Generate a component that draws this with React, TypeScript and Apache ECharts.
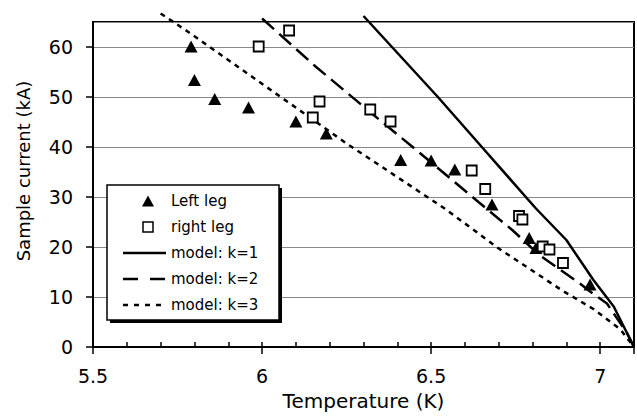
import React, { useEffect, useRef } from "react";
import * as echarts from "echarts";

const leftLegT = [5.79, 5.80, 5.86, 5.96, 6.10, 6.19, 6.41, 6.50, 6.57, 6.68, 6.79, 6.81, 6.97];
const leftLegI = [60.1, 53.4, 49.6, 47.9, 45.1, 42.7, 37.4, 37.3, 35.5, 28.5, 21.8, 19.8, 12.5];

const rightLegT = [5.99, 6.08, 6.15, 6.17, 6.32, 6.38, 6.62, 6.66, 6.76, 6.77, 6.83, 6.85, 6.89];
const rightLegI = [60.1, 63.3, 45.9, 49.1, 47.5, 45.1, 35.3, 31.6, 26.2, 25.5, 20.1, 19.5, 16.8];

const k1T = [6.30, 6.52, 6.65, 6.81, 6.90, 6.98, 7.04, 7.10];
const k1I = [66.2, 50.0, 40.0, 27.7, 21.4, 13.4, 8.1, 0];

const k2T = [6.00, 6.16, 6.33, 6.44, 6.64, 6.74, 6.82, 6.94, 6.97, 7.02, 7.08, 7.10];
const k2I = [65.7, 56.0, 46.4, 40.3, 29.0, 23.4, 18.4, 12.7, 11.1, 8.7, 2.7, 0];

const k3T = [5.70, 5.78, 6.11, 6.25, 6.54, 6.70, 6.89, 6.98, 7.06, 7.10];
const k3I = [66.7, 63.1, 47.4, 40.7, 27.7, 19.7, 11.2, 7.6, 3.5, 0];

const xLabels = ["5.5", "6", "6.5", "7"];
const seriesNames = ["Left leg", "right leg", "model: k=1", "model: k=2", "model: k=3"];
const xTitle = "Temperature (K)";
const yTitle = "Sample current (kA)";

const zip = (a: number[], b: number[]) => a.map((v, i) => [v, b[i]]);

const FONT = "DejaVu Sans";
const DASH2 = [16, 7];
const DASH3 = [5, 5];

export default function App() {
  const ref = useRef<HTMLDivElement>(null);
  useEffect(() => {
    if (!ref.current) return;
    const chart = echarts.init(ref.current, null, { renderer: "svg" });
    const lineBase = { type: "line", symbol: "none", showSymbol: false, clip: false, z: 2 };

    // manual legend (box, shadow, icons, texts)
    const lgX = 107, lgY = 185, lgW = 172, lgH = 135;
    const rowY = [201, 227, 253, 279, 305];
    const iconL = 123, iconR = 166, iconC = 148, textX = 171;
    const els: any[] = [
      { type: "rect", z: 10, shape: { x: lgX + 3, y: lgY + 3, width: lgW, height: lgH }, style: { fill: "#000" } },
      { type: "rect", z: 11, shape: { x: lgX, y: lgY, width: lgW, height: lgH }, style: { fill: "#fff", stroke: "#000", lineWidth: 1.5 } },
      { type: "polygon", z: 12, shape: { points: [[iconC - 6, rowY[0] + 5.5], [iconC + 6, rowY[0] + 5.5], [iconC, rowY[0] - 5.5]] }, style: { fill: "#000" } },
      { type: "rect", z: 12, shape: { x: iconC - 5, y: rowY[1] - 5, width: 10, height: 10 }, style: { fill: "#fff", stroke: "#000", lineWidth: 1.5 } },
      { type: "line", z: 12, shape: { x1: iconL, y1: rowY[2], x2: iconR, y2: rowY[2] }, style: { stroke: "#000", lineWidth: 2.5 } },
      { type: "line", z: 12, shape: { x1: iconL, y1: rowY[3], x2: iconR, y2: rowY[3] }, style: { stroke: "#000", lineWidth: 2.5, lineDash: [15, 12] } },
      { type: "line", z: 12, shape: { x1: iconL, y1: rowY[4], x2: iconR, y2: rowY[4] }, style: { stroke: "#000", lineWidth: 2.5, lineDash: [5, 6] } },
    ];
    seriesNames.forEach((n, i) => {
      els.push({
        type: "text",
        z: 12,
        x: textX,
        y: rowY[i],
        style: { text: n, fontSize: 15, fontFamily: FONT, fill: "#000", verticalAlign: "middle", align: "left" },
      });
    });
    els.push({
      type: "text",
      z: 12,
      x: 23,
      y: 171,
      rotation: Math.PI / 2,
      style: { text: yTitle, fontSize: 18, fontFamily: FONT, fill: "#000", verticalAlign: "middle", align: "center" },
    });

    chart.setOption({
      animation: false,
      backgroundColor: "#fff",
      textStyle: { fontFamily: FONT, color: "#000" },
      grid: {
        left: 93,
        right: 3,
        top: 22,
        bottom: 69,
        show: true,
        borderColor: "#000",
        borderWidth: 2,
      },
      xAxis: [
        {
          type: "value",
          position: "bottom",
          min: 5.5,
          max: 7.1,
          interval: 0.1,
          axisLine: { show: true, onZero: false, lineStyle: { color: "#000", width: 2 } },
          axisTick: { show: true, inside: true, length: 5, lineStyle: { color: "#000", width: 1.5 } },
          splitLine: { show: false },
          axisLabel: {
            margin: 19,
            fontSize: 19,
            fontFamily: FONT,
            color: "#000",
            showMaxLabel: false,
            formatter: (v: number) => {
              const r = Math.round(v * 10);
              if (r % 5 === 0 && r <= 70) return xLabels[(r - 55) / 5];
              return "";
            },
          },
          name: xTitle,
          nameLocation: "middle",
          nameGap: 44,
          nameTextStyle: { fontSize: 20, fontFamily: FONT, color: "#000" },
        },
        {
          type: "value",
          position: "bottom",
          min: 5.5,
          max: 7.1,
          interval: 0.5,
          axisLine: { show: false, onZero: false },
          axisTick: { show: true, inside: false, length: 7, lineStyle: { color: "#000", width: 1.5 } },
          splitLine: { show: false },
          axisLabel: { show: false },
        },
      ],
      yAxis: {
        type: "value",
        min: 0,
        max: 65,
        interval: 10,
        axisLine: { show: true, onZero: false, lineStyle: { color: "#000", width: 2 } },
        axisTick: { show: true, inside: false, length: 7, lineStyle: { color: "#000", width: 1.5 } },
        splitLine: { show: true, lineStyle: { color: "#888", width: 1.2 } },
        axisLabel: {
          margin: 20,
          fontSize: 19,
          fontFamily: FONT,
          color: "#000",
          showMaxLabel: false,
          formatter: (v: number) => (v > 60 ? "" : String(v)),
        },
      },
      graphic: els,
      series: [
        {
          ...lineBase,
          name: seriesNames[2],
          data: zip(k1T, k1I),
          lineStyle: { color: "#000", width: 2.5, type: "solid" },
        },
        {
          ...lineBase,
          name: seriesNames[3],
          data: zip(k2T, k2I),
          lineStyle: { color: "#000", width: 2.5, type: DASH2 },
        },
        {
          ...lineBase,
          name: seriesNames[4],
          data: zip(k3T, k3I),
          lineStyle: { color: "#000", width: 2.5, type: DASH3 },
        },
        {
          type: "scatter",
          name: seriesNames[0],
          symbol: "triangle",
          symbolSize: [13, 12],
          z: 4,
          data: zip(leftLegT, leftLegI),
          itemStyle: { color: "#000", opacity: 1 },
        },
        {
          type: "scatter",
          name: seriesNames[1],
          symbol: "rect",
          symbolSize: 10,
          z: 4,
          data: zip(rightLegT, rightLegI),
          itemStyle: { color: "#fff", borderColor: "#000", borderWidth: 1.8, opacity: 1 },
        },
      ],
    });
    return () => chart.dispose();
  }, []);
  return (
    <div
      ref={ref}
      style={{ position: "fixed", left: 0, top: 0, width: 637, height: 416 }}
    />
  );
}
